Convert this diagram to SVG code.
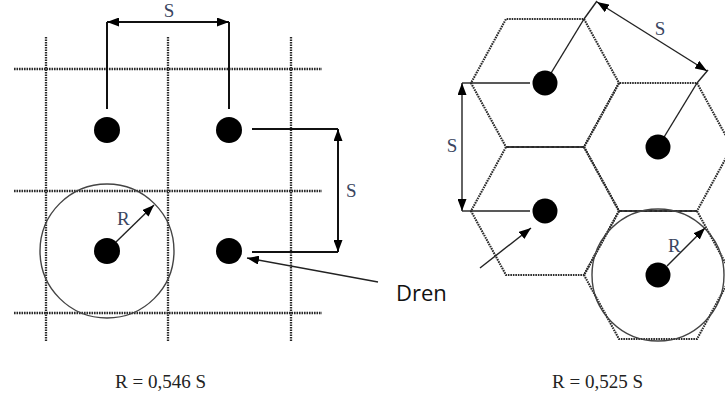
<svg xmlns="http://www.w3.org/2000/svg" width="725" height="405" viewBox="0 0 725 405">
<defs>
<style>
.grid{stroke:#2a2a2a;stroke-width:2.3;stroke-dasharray:1.6 0.9;fill:none}
.hex{stroke:#2a2a2a;stroke-width:2.1;stroke-dasharray:1.6 0.9;fill:none}
.dim{stroke:#111;stroke-width:2;fill:none}
.thin{stroke:#222;stroke-width:1.4;fill:none}
.circ{stroke:#444;stroke-width:1.4;fill:none}
.dot{fill:#000}
.lbl{font-family:"Liberation Serif",serif;font-size:19px;fill:#3a4560}
.eq{font-family:"Liberation Serif",serif;font-size:19px;fill:#222}
.dren{font-family:"Open Sans","Liberation Sans",sans-serif;font-size:22px;fill:#111}
</style>
<marker id="ah" viewBox="0 0 12 9" refX="12" refY="4.5" markerWidth="12" markerHeight="9" markerUnits="userSpaceOnUse" orient="auto-start-reverse">
<path d="M0,0 L12,4.5 L0,9 z" fill="#000"/>
</marker>
</defs>
<rect width="725" height="405" fill="#fff"/>
<g id="square-grid">
<line class="grid" x1="14" y1="69" x2="322" y2="69"/>
<line class="grid" x1="14" y1="191" x2="322" y2="191"/>
<line class="grid" x1="14" y1="313" x2="322" y2="313"/>
<line class="grid" x1="46" y1="37" x2="46" y2="342"/>
<line class="grid" x1="168" y1="37" x2="168" y2="342"/>
<line class="grid" x1="291" y1="37" x2="291" y2="342"/>
</g>
<g id="hex-grid">
<polygon class="hex" points="619,83 584,147 506,147 471,83 506,19 584,19"/>
<polygon class="hex" points="732,147 697,211 619,211 584,147 619,83 697,83"/>
<polygon class="hex" points="619,211 584,275 506,275 471,211 506,147 584,147"/>
<polygon class="hex" points="732,275 697,339 619,339 584,275 619,211 697,211"/>
</g>
<g id="circles">
<circle class="circ" cx="107" cy="251" r="67"/>
<circle class="circ" cx="658" cy="275" r="66"/>
</g>
<g id="connectors">
<polyline class="dim" points="107,109 107,22"/>
<polyline class="dim" points="229,109 229,22"/>
<line class="dim" x1="107" y1="22" x2="229" y2="22" marker-start="url(#ah)" marker-end="url(#ah)"/>
<polyline class="dim" points="252,129 338,129"/>
<polyline class="dim" points="252,252 338,252"/>
<line class="dim" x1="338" y1="129" x2="338" y2="252" marker-start="url(#ah)" marker-end="url(#ah)"/>
<line class="thin" x1="116" y1="242" x2="154" y2="205" marker-end="url(#ah)"/>
<line class="thin" x1="378" y1="282" x2="247" y2="258" marker-end="url(#ah)"/>
<line class="thin" x1="480" y1="268" x2="531" y2="228" marker-end="url(#ah)"/>
<line class="thin" x1="471" y1="83" x2="530" y2="83"/>
<line class="thin" x1="545" y1="83" x2="584" y2="19"/>
<line class="thin" x1="658" y1="147" x2="697" y2="83"/>
<line class="thin" x1="471" y1="211" x2="530" y2="211"/>
<line class="thin" x1="462" y1="83" x2="471" y2="83"/>
<line class="thin" x1="462" y1="211" x2="471" y2="211"/>
<line class="thin" x1="462" y1="83" x2="462" y2="211" marker-start="url(#ah)" marker-end="url(#ah)"/>
<line class="thin" x1="584" y1="19" x2="597" y2="1"/>
<line class="thin" x1="697" y1="83" x2="708" y2="70"/>
<line class="thin" x1="597" y1="2" x2="707" y2="71" marker-start="url(#ah)" marker-end="url(#ah)"/>
<line class="thin" x1="667" y1="266" x2="705" y2="228" marker-end="url(#ah)"/>
</g>
<g id="drains-square">
<circle class="dot" cx="107" cy="130" r="13"/>
<circle class="dot" cx="229" cy="130" r="13"/>
<circle class="dot" cx="107" cy="251" r="13"/>
<circle class="dot" cx="229" cy="251" r="13"/>
</g>
<g id="drains-hex">
<circle class="dot" cx="545" cy="83" r="12.5"/>
<circle class="dot" cx="658" cy="147" r="12.5"/>
<circle class="dot" cx="545" cy="211" r="12.5"/>
<circle class="dot" cx="658" cy="275" r="12.5"/>
</g>
<g id="labels">
<text class="lbl" x="169" y="17" text-anchor="middle">S</text>
<text class="lbl" x="346" y="197">S</text>
<text class="lbl" x="117" y="225">R</text>
<text class="lbl" x="452" y="152" text-anchor="middle">S</text>
<text class="lbl" x="660" y="35" text-anchor="middle">S</text>
<text class="lbl" x="668" y="252">R</text>
<text class="dren" x="396" y="301">Dren</text>
<text class="eq" x="115" y="388">R = 0,546 S</text>
<text class="eq" x="552" y="388">R = 0,525 S</text>
</g>
</svg>
